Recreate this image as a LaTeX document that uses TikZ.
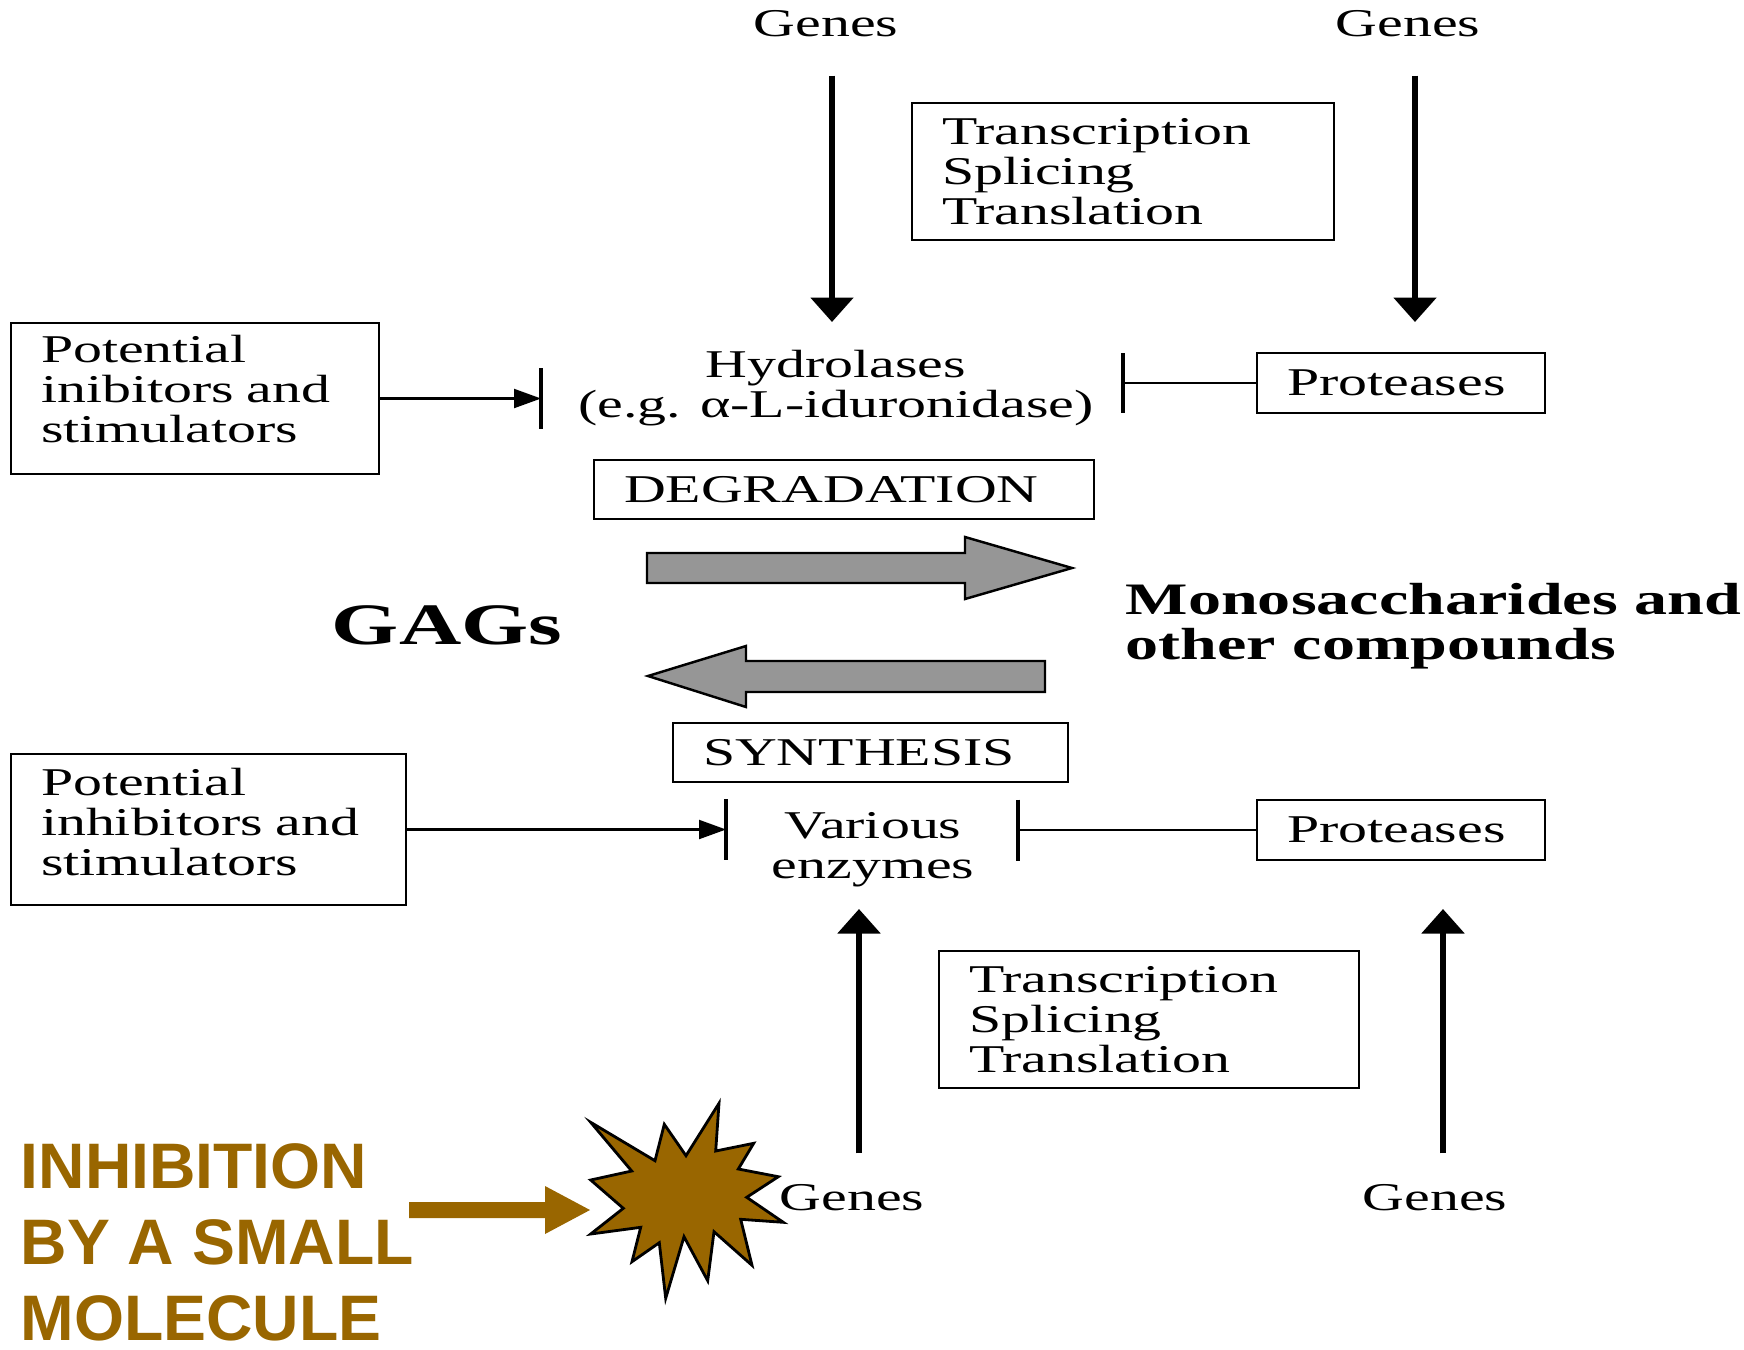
\documentclass[tikz,border=0pt]{standalone}
\usepackage{fontspec}
\setmainfont{Liberation Serif}[FakeStretch=1.47]
\newfontfamily\inhfont{Liberation Sans}
\usetikzlibrary{arrows.meta}
\definecolor{molbrown}{HTML}{996600}
\definecolor{blockgray}{HTML}{969696}
\tikzset{
	box/.style={draw, line width=0.6pt, align=left, inner xsep=3mm, inner ysep=0pt, font=\fontsize{11.2}{11.4}\selectfont},
	txt/.style={inner sep=0pt, font=\fontsize{11.2}{11.4}\selectfont},
	fatarrow/.style={line width=1.6pt, -{Triangle[width=4.2mm,length=2.45mm]}},
	thinarrow/.style={line width=0.6pt, -{Triangle[width=1.9mm,length=2.7mm]}},
	thinline/.style={line width=0.6pt},
	tbar/.style={line width=0.9pt},
	blockarrow/.style={draw=black, line width=0.7pt, fill=blockgray, line join=miter},
}

\begin{document}
\begin{tikzpicture}[x=0.1mm,y=-0.1mm]
			%%%%% START %%%%%
			\useasboundingbox (0,0) rectangle (1744,1349);
			
			% degradation side
			\node[txt] (genesTL) at (826,24) {Genes};
			\node[txt] (genesTR) at (1408,24) {Genes};
			\node[box, text width=36.2mm, minimum height=13.7mm] (trTop) at (1123,171.5) {Transcription\\Splicing\\Translation};
			\node[box, text width=30.8mm, minimum height=15.1mm] (potTop) at (195,398.5) {Potential\\inibitors and\\stimulators\rule[-2mm]{0pt}{0pt}};
			\node[txt, align=center] (hydro) at (836,388) {Hydrolases\\(e.g. α-L-iduronidase)};
			\node[box, text width=22.8mm, minimum height=6mm] (protTop) at (1401,383) {Proteases};
			\node[box, text width=44mm, minimum height=5.9mm] (degr) at (844,489.5) {DEGRADATION};
			
			\coordinate (hydTip) at (832,322);
			\coordinate (protTip) at (1415,322);
			\coordinate (hydL) at (541,398.5);
			\coordinate (hydR) at (1123,383);
			
			\draw[fatarrow, shorten <=3.76mm] (genesTL.south -| hydTip) -- (hydTip);
			\draw[fatarrow, shorten <=3.76mm] (genesTR.south -| protTip) -- (protTip);
			\draw[thinarrow] (potTop) -- (hydL);
			\draw[tbar] ([yshift=3.05mm]hydL) -- ([yshift=-3.05mm]hydL);
			\draw[thinline] (protTop) -- (hydR);
			\draw[tbar] ([yshift=3mm]hydR) -- ([yshift=-3mm]hydR);
			
			% middle
			\draw[blockarrow] (647,553) -- (965,553) -- (965,537) -- (1072,568) -- (965,599) -- (965,583) -- (647,583) -- cycle;
			\draw[blockarrow] (648,676) -- (746,646) -- (746,661) -- (1045,661) -- (1045,692) -- (746,692) -- (746,707) -- cycle;
			\node[txt, font=\fontsize{16.7}{18}\selectfont\bfseries] (gags) at (447,625) {GAGs};
			\node[txt, font=\fontsize{12.8}{12.7}\selectfont\bfseries, align=left, anchor=west] (mono) at (1125,626) {Monosaccharides and\\other compounds};
			
			% synthesis side
			\node[box, text width=33.5mm, minimum height=5.9mm] (synth) at (870.5,752.5) {SYNTHESIS};
			\node[box, text width=33.5mm, minimum height=15.1mm] (potBot) at (208.5,829.5) {Potential\\inhibitors and\\stimulators\rule[-1.6mm]{0pt}{0pt}};
			\node[txt, align=center] (enzymes) at (873,850) {Various\\enzymes};
			\node[box, text width=22.8mm, minimum height=6mm] (protBot) at (1401,830) {Proteases};
			\node[box, text width=36mm, minimum height=13.7mm] (trBot) at (1149,1019.5) {Transcription\\Splicing\\Translation};
			\node[txt] (genesBL) at (852,1198) {Genes};
			\node[txt] (genesBR) at (1435,1198) {Genes};
			
			\coordinate (synTip) at (859,909);
			\coordinate (protTipB) at (1443,909);
			\coordinate (synL) at (726,829.5);
			\coordinate (synR) at (1018,830);
			
			\draw[fatarrow, shorten <=3.06mm] (genesBL.north -| synTip) -- (synTip);
			\draw[fatarrow, shorten <=3.06mm] (genesBR.north -| protTipB) -- (protTipB);
			\draw[thinarrow] (potBot) -- (synL);
			\draw[tbar] ([yshift=3.05mm]synL) -- ([yshift=-3.05mm]synL);
			\draw[thinline] (protBot) -- (synR);
			\draw[tbar] ([yshift=3.05mm]synR) -- ([yshift=-3.05mm]synR);
			
			% small molecule
			\node[inner sep=0pt, anchor=north west, align=left, text=molbrown, font=\inhfont\bfseries\fontsize{18.3}{21.6}\selectfont] (inhib) at (20,1143) {INHIBITION\\BY A SMALL\\MOLECULE};
			\fill[molbrown] (409,1202) -- (545,1202) -- (545,1186) -- (590,1210) -- (545,1234) -- (545,1218) -- (409,1218) -- cycle;
			\draw[line width=0.8pt, fill=molbrown, line join=miter] (590.7,1122.3) -- (655,1160.7) -- (664.3,1124.3) -- (686,1155.7) -- (719,1103.3) -- (715.7,1151) -- (753.7,1143.3) -- (738.3,1169) -- (778.3,1176.7) -- (746.7,1197.3) -- (783.3,1222.3) -- (740.7,1219.3) -- (752,1265.3) -- (714,1231.7) -- (707.7,1280.7) -- (684,1236.7) -- (665.7,1298.3) -- (659.3,1242.7) -- (632,1261.7) -- (640.7,1227.3) -- (590.7,1234) -- (623.3,1208.3) -- (590.7,1180) -- (631.7,1171) -- cycle;
			%%%%% END %%%%%
\end{tikzpicture}
\end{document}
